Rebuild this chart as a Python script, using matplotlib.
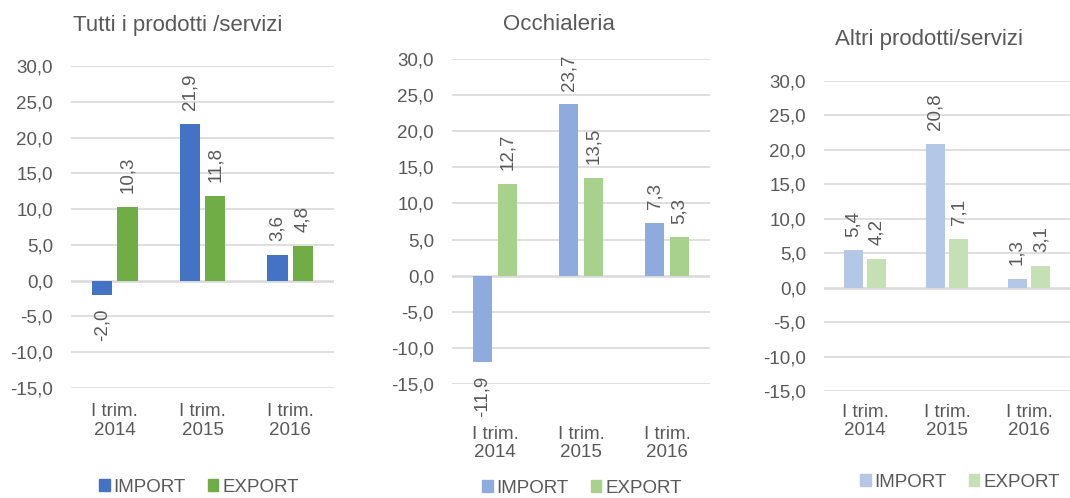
import matplotlib
matplotlib.use("Agg")
import matplotlib.pyplot as plt
from matplotlib.patches import Patch

plt.rcParams['font.family'] = ['Liberation Sans', 'DejaVu Sans']
plt.rcParams['axes.unicode_minus'] = False

categories = ["I trim.\n2014", "I trim.\n2015", "I trim.\n2016"]
titles = ["Tutti i prodotti /servizi", "Occhialeria", "Altri prodotti/servizi"]
import_vals = [[-2.0, 21.9, 3.6], [-11.9, 23.7, 7.3], [5.4, 20.8, 1.3]]
export_vals = [[10.3, 11.8, 4.8], [12.7, 13.5, 5.3], [4.2, 7.1, 3.1]]
yticks = [-15, -10, -5, 0, 5, 10, 15, 20, 25, 30]
series_names = ["IMPORT", "EXPORT"]

import_colors = ["#4472C4", "#8FAADC", "#B4C7E7"]
export_colors = ["#70AD47", "#A9D18E", "#C5E0B4"]
TXT = "#595959"
GRID = "#D9D9D9"

W, H = 1070, 498
fig = plt.figure(figsize=(W / 100, H / 100), dpi=100)

# pixel boxes: (left, right, top, bottom)
boxes = [(71, 334, 66, 388), (452, 710, 59, 384), (824, 1070, 81, 391)]
title_pos = [(178, 25), (559, 24), (929, 40)]
legend_pos = [(199, 487), (582, 488), (960, 482)]
xpad = [11, 30, 9]

bw = 0.23
off = 0.145
for i in range(3):
    l, r, t, b = boxes[i]
    ax = fig.add_axes([l / W, 1 - b / H, (r - l) / W, (b - t) / H])
    xs = list(range(len(categories)))
    ax.bar([x - off for x in xs], import_vals[i], width=bw, color=import_colors[i], zorder=3)
    ax.bar([x + off for x in xs], export_vals[i], width=bw, color=export_colors[i], zorder=3)
    for x, v in zip(xs, import_vals[i]):
        ax.annotate(f"{v:.1f}".replace(".", ","), (x - off, v), xytext=(0, 10 if v >= 0 else -10),
                    textcoords="offset points", rotation=90, ha="center",
                    va="bottom" if v >= 0 else "top", fontsize=13.5, color=TXT)
    for x, v in zip(xs, export_vals[i]):
        ax.annotate(f"{v:.1f}".replace(".", ","), (x + off, v), xytext=(0, 10 if v >= 0 else -10),
                    textcoords="offset points", rotation=90, ha="center",
                    va="bottom" if v >= 0 else "top", fontsize=13.5, color=TXT)
    ax.set_xlim(-0.5, 2.5)
    ax.set_ylim(-15, 30)
    ax.set_yticks(yticks)
    ax.set_yticklabels([f"{v:.1f}".replace(".", ",") for v in yticks])
    ax.set_xticks(xs)
    ax.set_xticklabels(categories, linespacing=1.1)
    ax.tick_params(axis="y", length=0, pad=13, labelsize=13.5, labelcolor=TXT)
    ax.tick_params(axis="x", length=0, pad=xpad[i], labelsize=13.5, labelcolor=TXT)
    for s in ax.spines.values():
        s.set_visible(False)
    for v in yticks:
        ax.axhline(v, color=GRID, lw=1.2 if v != 0 else 1.8, zorder=1)
    fig.text(title_pos[i][0] / W, 1 - title_pos[i][1] / H, titles[i], ha="center", va="center",
             fontsize=16, color=TXT)
    handles = [Patch(color=import_colors[i], label=series_names[0]),
               Patch(color=export_colors[i], label=series_names[1])]
    fig.legend(handles=handles, loc="center", ncol=2, frameon=False,
               bbox_to_anchor=(legend_pos[i][0] / W, 1 - legend_pos[i][1] / H),
               bbox_transform=fig.transFigure, fontsize=13.5, labelcolor=TXT,
               handlelength=0.55, handleheight=0.55, handletextpad=0.2, columnspacing=1.2,
               borderpad=0.1)

fig.savefig("out.png", dpi=100)
